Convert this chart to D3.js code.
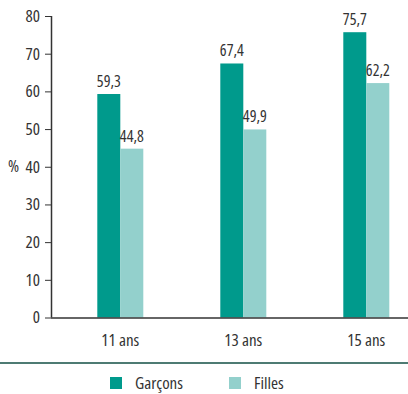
<!DOCTYPE html>
<html>
<head>
<meta charset="utf-8">
<script src="https://cdn.jsdelivr.net/npm/d3@7"></script>
<style>
  body { margin: 0; background: #fff; }
  svg text { font-family: "Open Sans", sans-serif; font-stretch: condensed; fill: #333; }
</style>
</head>
<body>
<svg id="chart" width="408" height="394"></svg>
<script>
// Age groups and shares (%) per sex
const categories = ["11 ans", "13 ans", "15 ans"];
const garcons = [59.3, 67.4, 75.7];
const filles = [44.8, 49.9, 62.2];
const seriesNames = ["Garçons", "Filles"];
const seriesColors = ["#009a8c", "#93d0cc"];
const yTicks = [0, 10, 20, 30, 40, 50, 60, 70, 80];

const svg = d3.select("#chart");
const fmt = v => d3.format(".1f")(v).replace(".", ",");

const x = d3.scaleBand().domain(categories).range([58.8, 427.8]);
const sub = d3.scaleBand().domain(seriesNames).range([-23, 23]);
const y = d3.scaleLinear().domain([0, 80]).range([317.5, 16]);

// Y axis
const yAxis = svg.append("g")
  .attr("transform", "translate(51,0)")
  .call(d3.axisLeft(y).tickValues(yTicks).tickSize(6).tickPadding(5));
yAxis.select(".domain").attr("stroke", "#333").attr("stroke-width", 1.5).attr("d", `M0.5,${y(80)}V${y(0)}`);
yAxis.selectAll(".tick line").attr("stroke", "#333");
yAxis.selectAll(".tick text").style("font-size", "17px").attr("fill", "#333");

svg.append("text").attr("x", 8).attr("y", y(40)).attr("dy", "0.32em")
  .style("font-size", "17px").text("%");

// Bars
const rows = categories.map((c, i) => ({ cat: c, values: [garcons[i], filles[i]] }));
const groups = svg.append("g").selectAll("g").data(rows).join("g")
  .attr("transform", d => `translate(${x(d.cat) + x.bandwidth() / 2},0)`);

groups.selectAll("rect").data(d => d.values.map((v, j) => ({ v, name: seriesNames[j], j })))
  .join("rect")
  .attr("x", d => sub(d.name))
  .attr("width", sub.bandwidth())
  .attr("y", d => y(d.v))
  .attr("height", d => y(0) - y(d.v))
  .attr("fill", d => seriesColors[d.j]);

groups.selectAll("text.val").data(d => d.values.map((v, j) => ({ v, name: seriesNames[j] })))
  .join("text").attr("class", "val")
  .attr("x", d => sub(d.name) + sub.bandwidth() / 2)
  .attr("y", d => y(d.v) - 7)
  .attr("text-anchor", "middle")
  .style("font-size", "16px")
  .text(d => fmt(d.v));

// X axis baseline and labels
svg.append("line").attr("x1", 51).attr("x2", 408).attr("y1", y(0) + 0.5).attr("y2", y(0) + 0.5)
  .attr("stroke", "#333").attr("stroke-width", 1.5);
svg.append("g").selectAll("text").data(categories).join("text")
  .attr("x", d => x(d) + x.bandwidth() / 2)
  .attr("y", 346)
  .attr("text-anchor", "middle")
  .style("font-size", "17px")
  .text(d => d);

// Separator rule
svg.append("line").attr("x1", 0).attr("x2", 408).attr("y1", 363).attr("y2", 363)
  .attr("stroke", "#4e7b73").attr("stroke-width", 2);

// Legend
const legendX = [110, 229];
const legend = svg.append("g").selectAll("g").data(seriesNames).join("g")
  .attr("transform", (d, i) => `translate(${legendX[i]},377)`);
legend.append("rect").attr("width", 12).attr("height", 12).attr("fill", (d, i) => seriesColors[i]);
legend.append("text").attr("x", 25).attr("y", 6).attr("dy", "0.35em")
  .style("font-size", "17px").text(d => d);
</script>
</body>
</html>
